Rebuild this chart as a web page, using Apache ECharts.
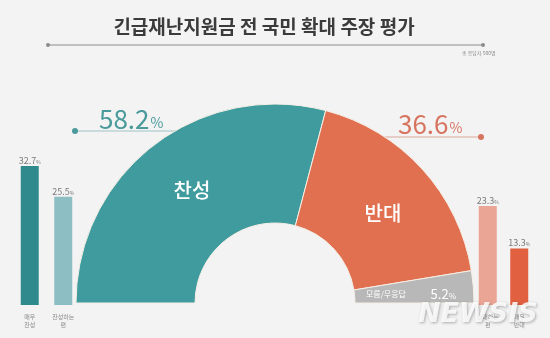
<!DOCTYPE html>
<html>
<head>
<meta charset="utf-8">
<script src="https://cdn.jsdelivr.net/npm/echarts@6/dist/echarts.min.js"></script>
<style>
  html, body { margin: 0; padding: 0; background: #f3f3f3; }
  #chart { width: 550px; height: 338px; }
</style>
</head>
<body>
<div id="chart"></div>
<script>
// Overall split of opinion
const pieNames = ['찬성', '반대', '모름/무응답'];
const pieValues = [58.2, 36.6, 5.2];
const pieColors = ['#3f9b9e', '#e0704f', '#b8b8b8'];

// Detail bars: support side and opposition side
const leftCats = ['매우\n찬성', '찬성하는\n편'];
const leftValues = [32.7, 25.5];
const leftColors = ['#2e8a8d', '#8dbec4'];
const rightCats = ['반대하는\n편', '매우\n반대'];
const rightValues = [23.3, 13.3];
const rightColors = ['#eba594', '#e0603f'];

const titleText = '긴급재난지원금 전 국민 확대 주장 평가';
const noteText = '총 응답자 500명';

const chart = echarts.init(document.getElementById('chart'), null, { renderer: 'canvas' });
const FONT = '"Noto Sans CJK KR", "Noto Sans", sans-serif';

function pct(v) { return v.toFixed(1); }

function barSeries(values, colors, idx) {
  return {
    type: 'bar',
    xAxisIndex: idx, yAxisIndex: idx,
    barWidth: 18,
    data: values.map((v, i) => ({ value: v, itemStyle: { color: colors[i] } })),
    label: {
      show: true, position: 'top', distance: 1,
      formatter: p => '{n|' + pct(p.value) + '}{p|%}',
      rich: {
        n: { fontFamily: FONT, fontSize: 9, color: '#7a7a7a' },
        p: { fontFamily: FONT, fontSize: 5, color: '#7a7a7a', padding: [3, 0, 0, 0] }
      }
    },
    silent: true
  };
}

function catAxis(cats, idx) {
  return {
    type: 'category', gridIndex: idx, data: cats,
    axisLine: { show: false }, axisTick: { show: false },
    axisLabel: { fontFamily: FONT, fontSize: 6, color: '#8a8a8a', lineHeight: 8, margin: 8 }
  };
}
function valAxis(idx) {
  return { type: 'value', gridIndex: idx, min: 0, max: 40, show: false, splitLine: { show: false } };
}

const option = {
  backgroundColor: '#f3f3f3',
  animation: false,
  grid: [
    { left: 13, width: 67, top: 135, bottom: 33 },
    { left: 472, width: 63, top: 135, bottom: 33 }
  ],
  xAxis: [catAxis(leftCats, 0), catAxis(rightCats, 1)],
  yAxis: [valAxis(0), valAxis(1)],
  series: [
    {
      type: 'pie',
      center: [275, 303],
      radius: [80, 199],
      startAngle: 180,
      clockwise: true,
      silent: true,
      label: { show: false },
      labelLine: { show: false },
      itemStyle: { borderColor: '#f6efe6', borderWidth: 1 },
      data: pieValues.map((v, i) => ({ name: pieNames[i], value: v, itemStyle: { color: pieColors[i] } }))
        .concat([{ name: '', value: 100, itemStyle: { color: 'rgba(0,0,0,0)', borderWidth: 0 } }])
    },
    barSeries(leftValues, leftColors, 0),
    barSeries(rightValues, rightColors, 1)
  ],
  graphic: [
    // heading
    { type: 'text', x: 264, y: 27, style: { text: titleText, font: 'bold 19px ' + FONT, fill: '#3b3b3b', align: 'center', verticalAlign: 'middle' } },
    { type: 'line', shape: { x1: 48, y1: 45, x2: 483, y2: 45 }, style: { stroke: '#8c8c8c', lineWidth: 1 } },
    { type: 'circle', shape: { cx: 48, cy: 45, r: 2 }, style: { fill: '#8c8c8c' } },
    { type: 'circle', shape: { cx: 483, cy: 45, r: 2 }, style: { fill: '#8c8c8c' } },
    { type: 'text', x: 462, y: 51, style: { text: noteText, font: '5px ' + FONT, fill: '#8a8a8a' } },

    // support callout
    { type: 'line', shape: { x1: 75, y1: 131, x2: 186, y2: 131 }, style: { stroke: '#9fc4c6', lineWidth: 1 }, z: 0 },
    { type: 'circle', shape: { cx: 75, cy: 131, r: 3 }, style: { fill: '#4a9a9c' } },
    { type: 'text', x: 99, y: 106, style: {
        text: '{n|' + pct(pieValues[0]) + '}{p|%}',
        rich: { n: { font: '26px ' + FONT, fill: '#4a9a9c' }, p: { font: '14px ' + FONT, fill: '#4a9a9c', padding: [8, 0, 0, 1] } }
    } },

    // opposition callout
    { type: 'line', shape: { x1: 385, y1: 137, x2: 481, y2: 137 }, style: { stroke: '#d9a898', lineWidth: 1 }, z: 0 },
    { type: 'circle', shape: { cx: 481, cy: 137, r: 3 }, style: { fill: '#d77460' } },
    { type: 'text', x: 398, y: 111, style: {
        text: '{n|' + pct(pieValues[1]) + '}{p|%}',
        rich: { n: { font: '26px ' + FONT, fill: '#d77460' }, p: { font: '14px ' + FONT, fill: '#d77460', padding: [8, 0, 0, 1] } }
    } },

    // slice names
    { type: 'text', x: 192, y: 190, z: 10, style: { text: pieNames[0], font: '500 20px ' + FONT, fill: '#ffffff', align: 'center', verticalAlign: 'middle' } },
    { type: 'text', x: 383, y: 213, z: 10, style: { text: pieNames[1], font: '500 20px ' + FONT, fill: '#ffffff', align: 'center', verticalAlign: 'middle' } },
    { type: 'text', x: 366, y: 294, z: 10, style: {
        text: '{a|' + pieNames[2] + '}  {n|' + pct(pieValues[2]) + '}{p|%}',
        verticalAlign: 'middle',
        rich: {
          a: { font: '8px ' + FONT, fill: '#ffffff' },
          n: { font: '13px ' + FONT, fill: '#ffffff', padding: [0, 0, 0, 18] },
          p: { font: '8px ' + FONT, fill: '#ffffff', padding: [3, 0, 0, 0] }
        }
    } },

    // agency mark
    { type: 'text', x: 418, y: 301, z: 20, style: {
        text: 'NEWSIS', font: 'italic bold 27px "DejaVu Sans", sans-serif',
        fill: 'rgba(255,255,255,0.85)', textShadowColor: 'rgba(0,0,0,0.35)', textShadowBlur: 3, textShadowOffsetX: 1, textShadowOffsetY: 1
    } }
  ]
};

chart.setOption(option);
</script>
</body>
</html>
